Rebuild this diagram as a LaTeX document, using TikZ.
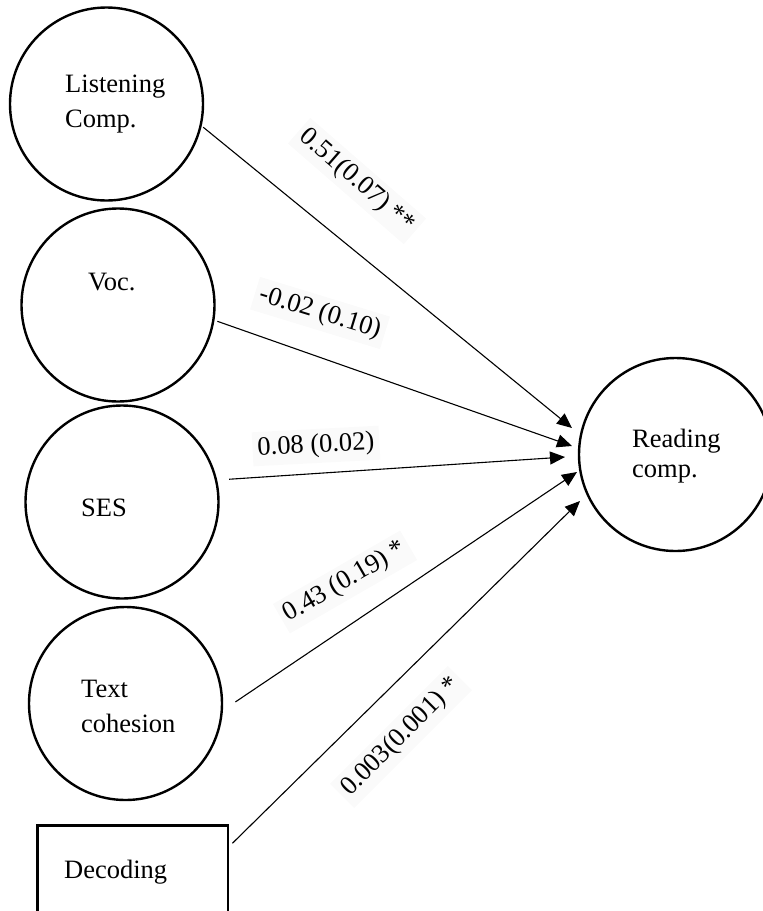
\documentclass[tikz,border=0pt]{standalone}
\usepackage{fontspec}
\setmainfont{Liberation Serif}
\usetikzlibrary{arrows.meta,calc}
\begin{document}
\begin{tikzpicture}[x=1pt,y=-1pt,
  var/.style={circle,draw,line width=2.4pt,minimum size=193pt,inner sep=0pt},
  boxvar/.style={rectangle,draw,line width=2.6pt,minimum width=190.5pt,minimum height=140pt,inner sep=0pt,anchor=north west},
  txt/.style={anchor=base west,inner sep=0pt,font=\fontsize{26.5}{31}\selectfont},
  conn/.style={line width=1.1pt,-{Triangle[length=15pt,width=13pt]}},
  coef/.style={fill=black!2,inner sep=5pt,font=\fontsize{26.5}{31}\selectfont}]
\useasboundingbox (0,0) rectangle (763,911);
\clip (0,0) rectangle (763,911);
% variables
\node[var] (listen) at (106.5,104) {};
\node[var] (voc) at (118,305) {};
\node[var] (ses) at (122,502) {};
\node[var] (coh) at (125.5,703.5) {};
\node[var] (read) at (675.5,454.5) {};
\node[boxvar] (dec) at (36.3,824.3) {};
% texts
\node[txt] (listenA) at (65,92) {Listening};
\node[txt] (listenB) at (65,127) {Comp.};
\node[txt] (vocA) at (88,290) {Voc.};
\node[txt] (sesA) at (81,516) {SES};
\node[txt] (cohA) at (81,697) {Text};
\node[txt] (cohB) at (81,732) {cohesion};
\node[txt] (readA) at (632,447) {Reading};
\node[txt] (readB) at (632,477) {comp.};
\node[txt] (decA) at (64,878) {Decoding};
% coefficients
\node[coef,rotate=-41] (l1) at (357,181) {0.51(0.07) **};
\node[coef,rotate=-17] (l2) at (320,313) {-0.02 (0.10)};
\node[coef,rotate=3] (l3) at (316,446) {0.08 (0.02)};
\node[coef,rotate=30] (l4) at (345,582) {0.43 (0.19) *};
\node[coef,rotate=45] (l5) at (401,737) {0.003(0.001) *};
% arrow tips
\coordinate (t1) at (572,428);
\coordinate (t2) at (572,446);
\coordinate (t3) at (565,457);
\coordinate (t4) at (577,472);
\coordinate (t5) at (580,501);
% connectors
\draw[conn,shorten <=2pt] (listen.-13.4) -- (t1);
\draw[conn,shorten <=3pt] (voc.-9) -- (t2);
\draw[conn,shorten <=12pt] (ses.13) -- (t3);
\draw[conn,shorten <=15pt] (coh.-4) -- (t4);
\draw[conn] ([shift={(3,19)}]dec.north east) -- (t5);
\end{tikzpicture}
\end{document}
